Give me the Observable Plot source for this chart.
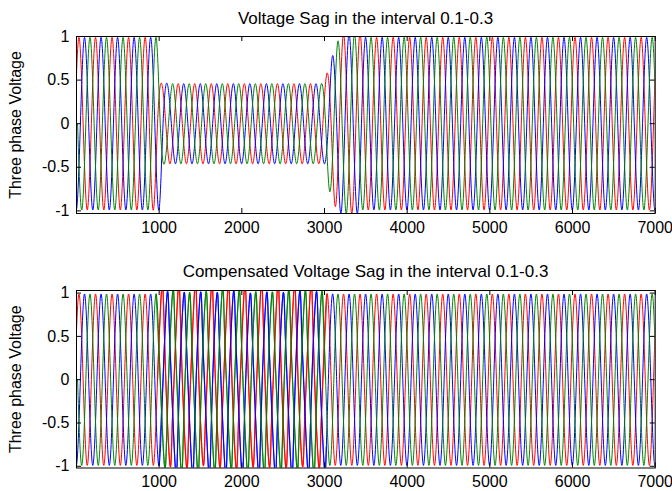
<!DOCTYPE html>
<html><head><meta charset="utf-8">
<script src="https://cdn.jsdelivr.net/npm/d3@7"></script>
<script src="https://cdn.jsdelivr.net/npm/@observablehq/plot@0.6"></script>
<style>
body{margin:0;background:#fff;}
#wrap{position:relative;width:672px;height:491px;overflow:hidden;background:#fff;font-family:"Liberation Sans",Arial,sans-serif;}
.title{position:absolute;left:76px;width:579px;text-align:center;font-size:17px;color:#000;line-height:17px;white-space:nowrap;}
.panel{position:absolute;left:0;}
</style></head><body><div id="wrap"></div>
<script>
// ---- data ----
const titles = ["Voltage Sag in the interval 0.1-0.3", "Compensated Voltage Sag in the interval 0.1-0.3"];
const yLabel = "Three phase Voltage";
const xTicks = [1000, 2000, 3000, 4000, 5000, 6000, 7000];
const yTicks = [-1, -0.5, 0, 0.5, 1];
const xDomain = [0, 7000];
const yDomainTop = [-1.03, 1.0];
const yDomainBottom = [-1.02, 1.03];
const phaseNames = ["A", "B", "C"];
const phaseColors = ["#ff0000", "#0000ff", "#008000"];
const phaseFirstPeak = [30, 97, 163];   // sample of first positive peak per phase
const halfCycle = 100;                  // 5 cycles per 1000 samples
const nHalfCycles = 72;
const sagInterval = [1000, 3000];
// top panel: peak amplitude by segment start (samples)
const sagSegStart = [0, 1000, 3000, 3060, 3120, 3180, 3450];
const sagSegAmp   = [0.99, 0.46, 0.58, 0.78, 0.95, 1.03, 0.99];
// bottom panel: peak amplitude by segment, plus per-half-cycle peaks in 1000-3000
const compSegStart = [0, 1000, 3000];
const compSegAmp   = [0.99, 1.0, 0.99];
const compSagPeaks = {
  A: [1.05, 0.98, 1.05, 1.0, 1.05, 0.97, 1.05, 0.99, 1.04, 1.02, 1.05, 0.98, 1.05, 0.99, 1.05, 1.0, 1.04, 0.98, 1.05, 1.0],
  B: [1.0, 1.04, 0.98, 1.04, 0.99, 1.04, 0.98, 1.03, 1.0, 1.04, 0.97, 1.04, 0.99, 1.04, 0.98, 1.04, 1.0, 1.04, 0.99, 1.0],
  C: [0.98, 1.01, 1.02, 0.98, 1.03, 0.99, 1.0, 1.03, 0.98, 1.0, 1.02, 0.99, 1.03, 0.98, 1.0, 1.02, 0.99, 1.0, 1.03, 0.99]
};
// bottom panel: level on the falling side of each half-cycle in 1000-3000 (absolute value)
const compSagShoulder = {
  A: [0.80, 0.62, 0.78, 0.64, 0.82, 0.60, 0.79, 0.63, 0.81, 0.62, 0.78, 0.65, 0.82, 0.61, 0.80, 0.63, 0.79, 0.62, 0.81, 0.64],
  B: [0.62, 0.80, 0.64, 0.79, 0.61, 0.82, 0.63, 0.78, 0.62, 0.81, 0.64, 0.80, 0.61, 0.79, 0.63, 0.82, 0.62, 0.80, 0.64, 0.78],
  C: [0.74, 0.66, 0.79, 0.62, 0.76, 0.64, 0.80, 0.63, 0.75, 0.66, 0.78, 0.62, 0.77, 0.65, 0.80, 0.63, 0.76, 0.64, 0.79, 0.66]
};

// ---- build tables ----
function segAmp(starts, amps, t) {
  let a = amps[0];
  for (let i = 0; i < starts.length; i++) if (t >= starts[i]) a = amps[i];
  return a;
}
function buildSeries(ampFn, shoulderFn) {
  const rows = [];
  phaseNames.forEach((ph, p) => {
    for (let k = -1; k < nHalfCycles; k++) {
      const tp = phaseFirstPeak[p] + k * halfCycle;
      const sign = (k % 2 === 0) ? 1 : -1;
      rows.push({phase: ph, t: tp - halfCycle / 2, v: 0});
      rows.push({phase: ph, t: tp, v: sign * ampFn(ph, tp)});
      const s = shoulderFn ? shoulderFn(ph, tp) : null;
      if (s != null) rows.push({phase: ph, t: tp + halfCycle / 4, v: sign * s});
    }
  });
  return rows;
}
const inSag = t => t >= sagInterval[0] && t < sagInterval[1];
const sagIdx = t => Math.floor((t - sagInterval[0]) / halfCycle);
const sagSeries = buildSeries((ph, t) => segAmp(sagSegStart, sagSegAmp, t));
const compSeries = buildSeries(
  (ph, t) => inSag(t) ? compSagPeaks[ph][sagIdx(t)] : segAmp(compSegStart, compSegAmp, t),
  (ph, t) => inSag(t) ? compSagShoulder[ph][sagIdx(t)] : null
);
const compSagRows = compSeries.filter(d => d.t >= sagInterval[0] - 50 && d.t <= sagInterval[1] + 30);

// ---- drawing ----
const W = 672, mL = 76, mR = 17.3;
const innerW = W - mL - mR;
function panel(series, yDomain, mT, innerH, mB, extra = []) {
  return Plot.plot({
    width: W, height: mT + innerH + mB,
    marginLeft: mL, marginRight: mR, marginTop: mT, marginBottom: mB,
    x: {domain: xDomain},
    y: {domain: yDomain},
    color: {domain: phaseNames, range: phaseColors},
    style: {fontFamily: "'Liberation Sans', Arial, sans-serif", fontSize: "16px", color: "#000", background: "transparent", overflow: "visible"},
    marks: [
      Plot.line(series, {x: "t", y: "v", z: "phase", stroke: "phase", curve: "natural", strokeWidth: 1, clip: true}),
      ...extra,
      Plot.frame({stroke: "#000", strokeWidth: 1}),
      Plot.tickX(xTicks, {x: d => d, insetTop: innerH - 5, stroke: "#000"}),
      Plot.tickX(xTicks, {x: d => d, insetBottom: innerH - 5, stroke: "#000"}),
      Plot.tickY(yTicks, {y: d => d, insetRight: innerW - 5, stroke: "#000"}),
      Plot.tickY(yTicks, {y: d => d, insetLeft: innerW - 5, stroke: "#000"}),
      Plot.axisX(xTicks, {tickSize: 0, tickPadding: 8, label: null, tickFormat: d => String(d)}),
      Plot.axisY(yTicks, {tickSize: 0, tickPadding: 7, tickFormat: d => String(d),
        label: yLabel, labelAnchor: "center", labelArrow: "none", labelOffset: 67})
    ]
  });
}

const wrap = document.getElementById("wrap");
function addTitle(text, top) {
  const d = document.createElement("div");
  d.className = "title"; d.style.top = top + "px"; d.textContent = text;
  wrap.appendChild(d);
}
const p1 = panel(sagSeries, yDomainTop, 36, 177, 35);
p1.classList.add("panel"); p1.style.top = "0px";
wrap.appendChild(p1);
// the switching distortion during the compensated sag reads as slightly heavier strokes
const p2 = panel(compSeries, yDomainBottom, 42, 177.5, 23.5, [
  Plot.line(compSagRows, {x: "t", y: "v", z: "phase", stroke: "phase", curve: "natural", strokeWidth: 1.25, strokeOpacity: 0.8, clip: true})
]);
p2.classList.add("panel"); p2.style.top = "248px";
wrap.appendChild(p2);
addTitle(titles[0], 10);
addTitle(titles[1], 263);
</script>
</body></html>
